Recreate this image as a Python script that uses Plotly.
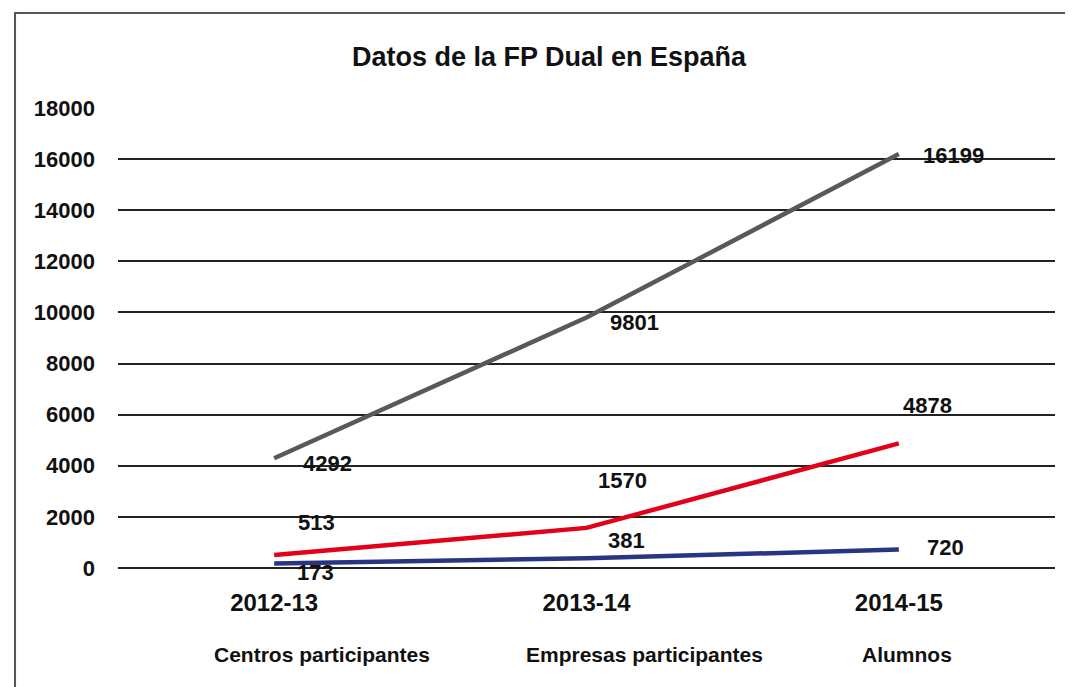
import plotly.graph_objs as go

# data
years = ["2012-13", "2013-14", "2014-15"]
series_names = ["Centros participantes", "Empresas participantes", "Alumnos"]
centros = [173, 381, 720]
empresas = [513, 1570, 4878]
alumnos = [4292, 9801, 16199]

colors = ["#283583", "#e2001a", "#595959"]
# label offsets (xshift, yshift) in px, one per point
label_shifts = [
    [(41, -9), (40, 18), (47, 2)],
    [(42, 32), (36, 47), (29, 38)],
    [(53, -5), (48, -5), (55, -1)],
]
legend_x = [0.2177, 0.5624, 0.8420]

sans = "Liberation Sans, Arial, sans-serif"

fig = go.Figure()
annotations = []
for name, vals, color, shifts in zip(series_names, [centros, empresas, alumnos], colors, label_shifts):
    fig.add_trace(go.Scatter(x=years, y=vals, name=name, mode="lines",
                             line=dict(color=color, width=4.5), showlegend=False))
    for xv, yv, (dx, dy) in zip(years, vals, shifts):
        annotations.append(dict(x=xv, y=yv, text=f"<b>{yv}</b>", showarrow=False,
                                xshift=dx, yshift=dy,
                                font=dict(family=sans, size=22, color="#111")))

for name, lx in zip(series_names, legend_x):
    annotations.append(dict(x=lx, y=-0.187, xref="paper", yref="paper", text=f"<b>{name}</b>",
                            xanchor="center", yanchor="middle", showarrow=False,
                            font=dict(family=sans, size=21, color="#111")))

# the page has an 8px body margin, so margins are shifted by 8px
fig.update_layout(
    width=1073, height=687,
    margin=dict(l=110, r=26, t=100, b=127),
    paper_bgcolor="white", plot_bgcolor="white",
    title=dict(text="<b>Datos de la FP Dual en España</b>", x=0.46, xref="paper", xanchor="center",
               y=1 - 49 / 687, yanchor="middle", font=dict(family=sans, size=27, color="#111")),
    annotations=annotations,
    shapes=[dict(type="rect", xref="paper", yref="paper", x0=-0.1099, x1=1.05, y0=-0.6, y1=1.2065,
                 line=dict(color="#555", width=2), layer="below")],
)
fig.update_xaxes(range=[-0.5, 2.5], showgrid=False, showline=False, ticks="",
                 ticklabelstandoff=18, tickfont=dict(family=sans, size=24, color="#111"),
                 tickprefix="<b>", ticksuffix="</b>")
fig.update_yaxes(range=[0, 18000], dtick=2000, tickformat="d", showgrid=True, gridcolor="#222",
                 gridwidth=1.5, zeroline=True, zerolinecolor="#222", zerolinewidth=1.5,
                 showline=False, ticks="",
                 ticklabelstandoff=22, tickfont=dict(family=sans, size=22, color="#111"),
                 tickprefix="<b>", ticksuffix="</b>")

fig.write_html("out.html")
